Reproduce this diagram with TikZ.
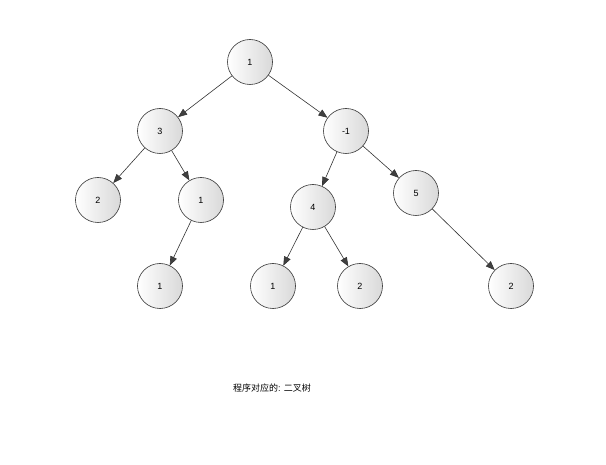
\documentclass[tikz,border=0pt]{standalone}
\usepackage{fontspec}
\setmainfont{Liberation Sans}
\newfontfamily\cjk{Noto Sans CJK SC}
\usetikzlibrary{arrows.meta}
\begin{document}
\begin{tikzpicture}[x=1pt,y=-1pt,
  nd/.style={circle,draw=black!80,line width=0.6pt,minimum size=45pt,inner sep=0pt,
    left color=white,right color=black!15,font=\small},
  ar/.style={draw=black!80,line width=0.6pt,-{Triangle[length=9pt,width=7pt,fill=black!75]}}]
\useasboundingbox (0,0) rectangle (606,465);
\node[nd] (a) at (250,62) {1};
\node[nd] (b) at (160,131) {3};
\node[nd] (c) at (346,131) {-1};
\node[nd] (d) at (98,200) {2};
\node[nd] (e) at (201,200) {1};
\node[nd] (f) at (313,207) {4};
\node[nd] (g) at (416,193) {5};
\node[nd] (h) at (160,286) {1};
\node[nd] (i) at (273,286) {1};
\node[nd] (j) at (360,286) {2};
\node[nd] (k) at (511,286) {2};
\draw[ar] (a) -- (b);
\draw[ar] (a) -- (c);
\draw[ar] (b) -- (d);
\draw[ar] (b) -- (e);
\draw[ar] (e) -- (h);
\draw[ar] (c) -- (f);
\draw[ar] (c) -- (g);
\draw[ar] (f) -- (i);
\draw[ar] (f) -- (j);
\draw[ar] (g) -- (k);
\node[font=\small] (cap) at (272,388) {{\cjk 程序对应的}: {\cjk 二叉树}};
\end{tikzpicture}
\end{document}
